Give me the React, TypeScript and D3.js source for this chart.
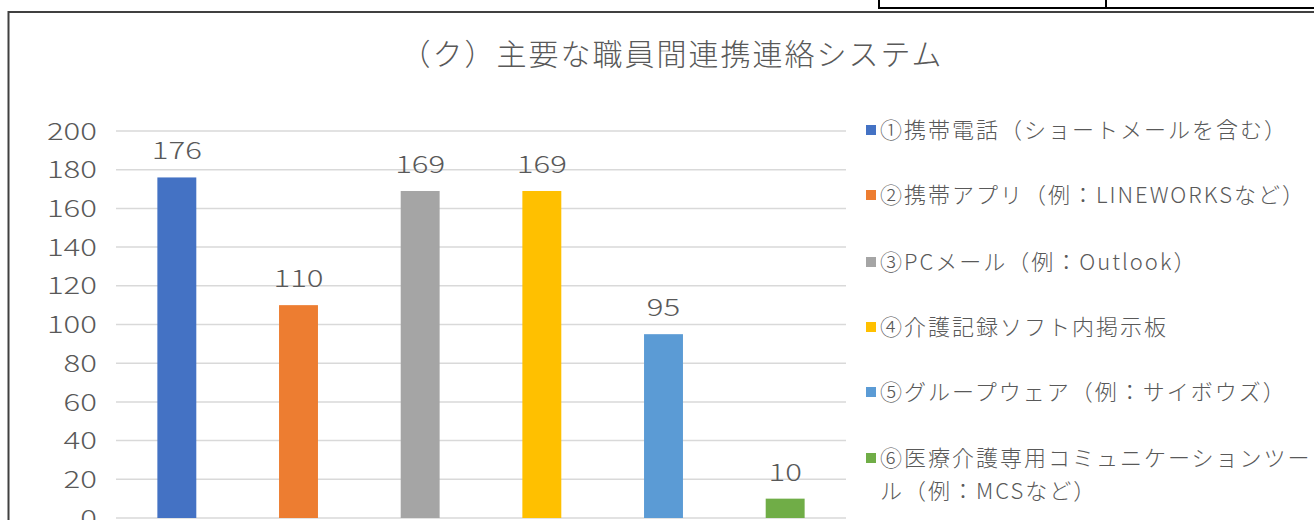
import React from "react";
import * as d3 from "d3";

const categories = [
  "①携帯電話（ショートメールを含む）",
  "②携帯アプリ（例：LINEWORKSなど）",
  "③PCメール（例：Outlook）",
  "④介護記録ソフト内掲示板",
  "⑤グループウェア（例：サイボウズ）",
  "⑥医療介護専用コミュニケーションツール（例：MCSなど）",
];
const legendLines = [
  ["①携帯電話（ショートメールを含む）"],
  ["②携帯アプリ（例：LINEWORKSなど）"],
  ["③PCメール（例：Outlook）"],
  ["④介護記録ソフト内掲示板"],
  ["⑤グループウェア（例：サイボウズ）"],
  ["⑥医療介護専用コミュニケーションツー", "ル（例：MCSなど）"],
];
const values = [176, 110, 169, 169, 95, 10];
const colors = ["#4472C4", "#ED7D31", "#A5A5A5", "#FFC000", "#5B9BD5", "#70AD47"];
const yTicks = [0, 20, 40, 60, 80, 100, 120, 140, 160, 180, 200];
const title = "（ク）主要な職員間連携連絡システム";

const W = 1314;
const H = 520;
const FONT = "'Noto Sans CJK JP', 'Noto Sans', sans-serif";
const TEXT = "#595959";
const NUM_STRETCH = 1.3;

export default function App() {
  const x = d3.scaleBand<string>().domain(categories).range([116, 846]).paddingInner(0.68).paddingOuter(0.34);
  const y = d3.scaleLinear().domain([0, 200]).range([518, 131]);
  const legendY = [130, 195, 262, 327, 392, 458];

  return (
    <svg
      width={W}
      height={H}
      style={{ position: "absolute", left: 0, top: 0, background: "#fff" }}
      fontFamily={FONT}
      fontWeight={300}
    >
      {/* table fragment at top right */}
      <rect x={879} y={-10} width={460} height={18} fill="none" stroke="#000" strokeWidth={2} />
      <line x1={1106} x2={1106} y1={0} y2={8} stroke="#000" strokeWidth={2} />
      {/* chart border */}
      <rect x={8.5} y={12} width={1340} height={540} fill="#fff" stroke="#404040" strokeWidth={2} />

      <text x={672} y={65} textAnchor="middle" fontSize={30} letterSpacing={2} fill={TEXT}>
        {title}
      </text>

      {yTicks.map((t) => (
        <g key={t}>
          <line x1={116} x2={846} y1={y(t)} y2={y(t)} stroke="#D9D9D9" strokeWidth={1.5} />
          <text
            transform={`translate(97,${y(t)}) scale(${NUM_STRETCH},1)`}
            dy="0.36em"
            textAnchor="end"
            fontSize={24}
            fill={TEXT}
          >
            {t}
          </text>
        </g>
      ))}

      {categories.map((c, i) => (
        <g key={c}>
          <rect x={x(c)} y={y(values[i])} width={x.bandwidth()} height={y(0) - y(values[i])} fill={colors[i]} />
          <text
            transform={`translate(${(x(c) as number) + x.bandwidth() / 2},${y(values[i]) - 18}) scale(${NUM_STRETCH},1)`}
            textAnchor="middle"
            fontSize={24}
            fill={TEXT}
          >
            {values[i]}
          </text>
        </g>
      ))}

      {legendLines.map((lines, i) => (
        <g key={i}>
          <rect x={866} y={legendY[i] - 5} width={10} height={10} fill={colors[i]} />
          {lines.map((l, j) => (
            <text key={j} x={880} y={legendY[i] + j * 33} dy="0.36em" fontSize={22} letterSpacing={2} fill={TEXT}>
              {l}
            </text>
          ))}
        </g>
      ))}
    </svg>
  );
}
